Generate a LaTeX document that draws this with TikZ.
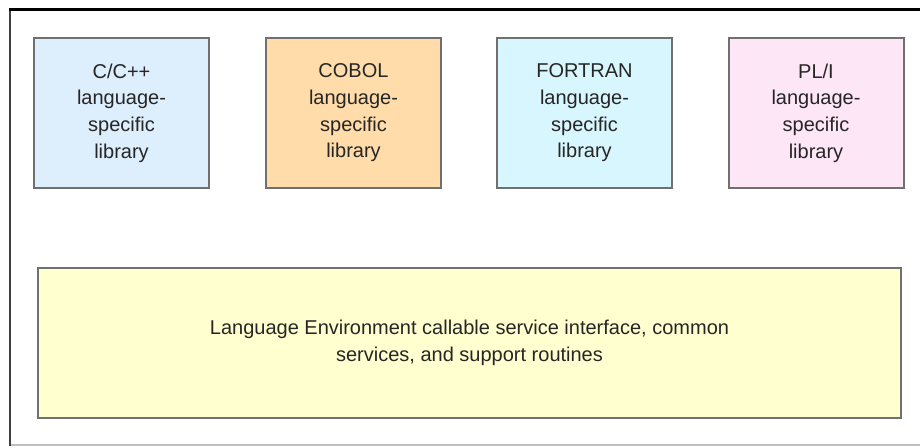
\documentclass[tikz,border=0pt]{standalone}
\usepackage{fontspec}
\setmainfont{Liberation Sans}
\definecolor{cblue}{HTML}{DDEEFD}
\definecolor{cpeach}{HTML}{FFDCAA}
\definecolor{ccyan}{HTML}{D8F6FE}
\definecolor{cpink}{HTML}{FDE6F6}
\definecolor{cyell}{HTML}{FFFFCF}
\definecolor{cedge}{HTML}{707070}
\begin{document}
\begin{tikzpicture}[x=1pt,y=-1pt,
  libbox/.style={draw=cedge, line width=2pt, minimum width=175pt, minimum height=150pt,
    align=center, inner sep=0pt, font=\fontsize{20}{26.7}\selectfont, text=black!85},
  basebox/.style={libbox, minimum width=863pt, minimum height=150pt}]
\useasboundingbox (0,0) rectangle (920,447);
% outer frame
\draw[line width=1.5pt, draw=black!25] (9,445) -- (920,445);
\draw[line width=2pt, draw=black!75] (10,9) -- (10,446);
\draw[line width=3pt, draw=black] (9,9.5) -- (920,9.5);
% boxes
\node[libbox, fill=cblue]  (c)  at (121.5,113) {C/C++\\language-\\specific\\library};
\node[libbox, fill=cpeach] (cb) at (353.5,113) {COBOL\\language-\\specific\\library};
\node[libbox, fill=ccyan]  (f)  at (584.5,113) {FORTRAN\\language-\\specific\\library};
\node[libbox, fill=cpink]  (p)  at (816,113) {PL/I\\language-\\specific\\library};
\node[basebox, fill=cyell] (le) at (469.5,343) {Language Environment callable service interface, common\\services, and support routines};
\end{tikzpicture}
\end{document}
